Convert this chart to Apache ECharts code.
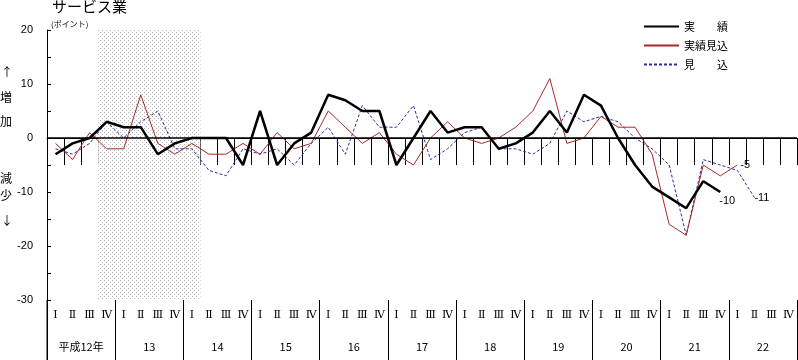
<!DOCTYPE html>
<html>
<head>
<meta charset="utf-8">
<script src="https://cdn.jsdelivr.net/npm/echarts@6/dist/echarts.min.js"></script>
<style>
html,body{margin:0;padding:0;background:#fff;}
#c{width:798px;height:360px;}
</style>
</head>
<body>
<div id="c"></div>
<script>
// ---- data ----
const years = ['平成12年','13','14','15','16','17','18','19','20','21','22'];
const quarters = ['Ⅰ','Ⅱ','Ⅲ','Ⅳ'];
const actual = [-3,-1,0,3, 2,2,-3,-1, 0,0,0,-5, 5,-5,-1,1, 8,7,5,5, -5,0,5,1, 2,2,-2,-1, 1,5,1,8, 6,0,-5,-9, -11,-13,-8,-10, null,null,null,null];
const estimate = [-1,-4,1,-2, -2,8,-1,-3, -1,-3,-3,-1, -3,1,-2,-1, 5,2,-1,1, -3,-5,0,3, 0,-1,0,2, 5,11,-1,0, 4,2,2,-3, -16,-18,-5,-7, -5,null,null,null];
const forecast = [-2,-3,-1,3, 0,3,5,-2, -2,-6,-7,-2, -3,-2,-5,-1, 2,-3,6,2, 2,6,-4,-2, 1,2,-2,-2, -3,-1,5,3, 4,3,0,-2, -5,-18,-4,-5, -6,-11,null,null];
const seriesNames = ['実　　績','実績見込','見　　込'];
const shadeRange = [3, 9]; // quarter index range of shaded period
const yTicks = {min:-30, max:20, interval:10};

const categories = [];
years.forEach(y => quarters.forEach(q => categories.push(y + '|' + q)));

function endMark(arr, offset) {
  let last = -1;
  arr.forEach((v, i) => { if (v !== null) last = i; });
  return {
    silent: true, symbol: 'circle', symbolSize: 0, animation: false,
    label: {show: true, position: 'right', distance: 2, offset: offset,
      formatter: '{c}', color: '#000', fontSize: 11, fontFamily: 'Liberation Sans, Arial, sans-serif'},
    data: [{coord: [last, arr[last]], value: arr[last]}]
  };
}

// dotted shading pattern
const pc = document.createElement('canvas');
pc.width = 4; pc.height = 4;
const pctx = pc.getContext('2d');
pctx.fillStyle = '#ffffff'; pctx.fillRect(0,0,4,4);
pctx.fillStyle = '#b4b4b4';
pctx.fillRect(0,0,1,1);
pctx.fillRect(2,2,1,1);

const chart = echarts.init(document.getElementById('c'), null, {renderer: 'canvas'});
const cjk = '"Noto Sans CJK JP", sans-serif';

chart.setOption({
  animation: false,
  backgroundColor: '#fff',
  grid: {left: 47, right: 1, top: 30, bottom: 60, containLabel: false},
  legend: {
    orient: 'vertical', left: 638, top: 16, itemWidth: 35, itemHeight: 10, itemGap: 8,
    data: seriesNames,
    itemStyle: {opacity: 0, borderWidth: 0},
    textStyle: {fontSize: 11, fontFamily: cjk, color: '#000'}
  },
  graphic: [
    {type: 'text', left: 52, top: -1, style: {text: 'サービス業', font: '15px ' + cjk, fill: '#000'}},
    {type: 'text', left: 51, top: 20, style: {text: '(ポイント)', font: '8px ' + cjk, fill: '#000'}},
    {type: 'text', left: 1, top: 66, style: {text: '↑', font: '12px ' + cjk, fill: '#000'}},
    {type: 'text', left: 0, top: 91, style: {text: '増', font: '12px ' + cjk, fill: '#000'}},
    {type: 'text', left: 0, top: 115, style: {text: '加', font: '12px ' + cjk, fill: '#000'}},
    {type: 'text', left: 0, top: 172, style: {text: '減', font: '12px ' + cjk, fill: '#000'}},
    {type: 'text', left: 0, top: 189, style: {text: '少', font: '12px ' + cjk, fill: '#000'}},
    {type: 'text', left: 1, top: 214, style: {text: '↓', font: '12px ' + cjk, fill: '#000'}},
    {type: 'line', shape: {x1: 47, y1: 300, x2: 47, y2: 360}, style: {stroke: '#000', lineWidth: 1}}
  ],
  xAxis: [
    {
      type: 'category', data: categories, boundaryGap: true, position: 'bottom',
      axisLine: {show: true, lineStyle: {color: '#000', width: 1}},
      axisTick: {show: true, interval: 0, length: 27, lineStyle: {color: '#000'}},
      axisLabel: {interval: 0, margin: 10, formatter: v => v.split('|')[1],
        fontSize: 11, fontFamily: '"DejaVu Serif", "Liberation Serif", serif', color: '#000'},
      splitLine: {show: false}
    },
    {
      type: 'category', data: years, boundaryGap: true, position: 'bottom',
      axisLine: {show: false},
      axisTick: {show: true, interval: 0, length: 60, lineStyle: {color: '#000'}},
      axisLabel: {interval: 0, margin: 41, fontSize: 11, fontFamily: cjk, color: '#000'},
      splitLine: {show: false}
    },
    {
      type: 'value', min: 0, max: categories.length, show: false
    }
  ],
  yAxis: {
    type: 'value', min: yTicks.min, max: yTicks.max, interval: yTicks.interval,
    axisLine: {show: true, lineStyle: {color: '#000'}},
    axisTick: {show: true, inside: true, length: 4, lineStyle: {color: '#000'}},
    minorTick: {show: true, splitNumber: 2, length: 4, lineStyle: {color: '#000'}},
    axisLabel: {margin: 14, fontSize: 11, fontFamily: 'Liberation Sans, Arial, sans-serif', color: '#000'},
    splitLine: {show: false}
  },
  series: [
    {
      name: 'shade', type: 'line', xAxisIndex: 2, data: [], silent: true,
      markArea: {silent: true,
        itemStyle: {color: {image: pc, repeat: 'repeat'}},
        data: [[{xAxis: shadeRange[0]}, {xAxis: shadeRange[1]}]]}
    },
    {
      name: seriesNames[0], type: 'line', data: actual,
      symbol: 'none', z: 5,
      lineStyle: {color: '#000', width: 2.5}, itemStyle: {color: '#000'},
      markPoint: endMark(actual, [-3, 9]),
      markLine: {silent: true, symbol: 'none', label: {show: false},
        lineStyle: {color: '#000', width: 1.5, type: 'solid'},
        data: [{yAxis: 0}]}
    },
    {
      name: seriesNames[1], type: 'line', data: estimate,
      symbol: 'none', z: 4,
      lineStyle: {color: '#a52a2a', width: 1}, itemStyle: {color: '#a52a2a'},
      markPoint: endMark(estimate, [1, 0])
    },
    {
      name: seriesNames[2], type: 'line', data: forecast,
      symbol: 'none', z: 3,
      lineStyle: {color: '#2b2b9e', width: 1, type: [3, 2]}, itemStyle: {color: '#2b2b9e'},
      markPoint: endMark(forecast, [-2, 1])
    }
  ]
});
</script>
</body>
</html>
